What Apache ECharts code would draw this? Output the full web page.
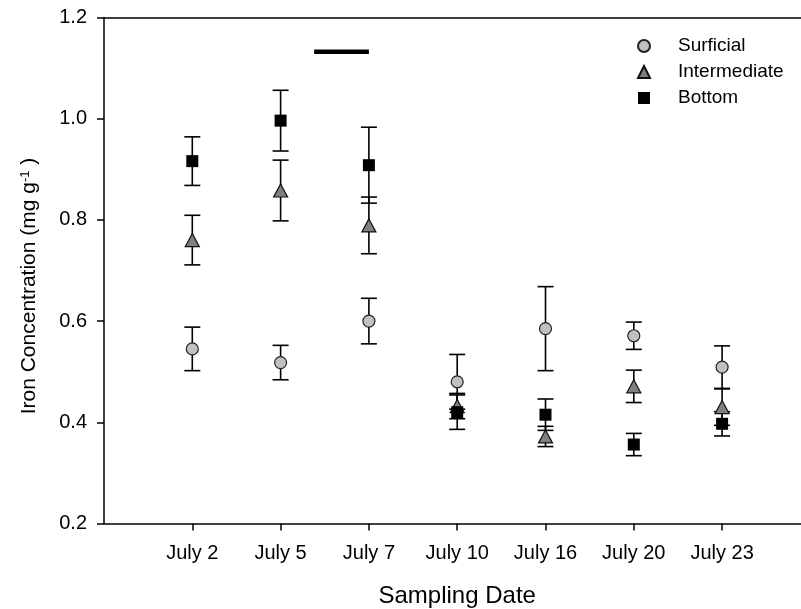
<!DOCTYPE html>
<html>
<head>
<meta charset="utf-8">
<script src="https://cdn.jsdelivr.net/npm/echarts@6/dist/echarts.min.js"></script>
<style>html,body{margin:0;padding:0;background:#fff}#c{width:801px;height:609px}</style>
</head>
<body>
<div id="c"></div>
<script>
const categories = ['July 2', 'July 5', 'July 7', 'July 10', 'July 16', 'July 20', 'July 23'];
const xPositions = [1, 2, 3, 4, 5, 6, 7];
const surficialMean = [0.545, 0.518, 0.600, 0.480, 0.585, 0.571, 0.509];
const surficialErr  = [0.043, 0.034, 0.045, 0.054, 0.083, 0.027, 0.042];
const intermediateMean = [0.760, 0.858, 0.789, 0.432, 0.372, 0.471, 0.430];
const intermediateErr  = [0.049, 0.060, 0.056, 0.025, 0.020, 0.032, 0.036];
const bottomMean = [0.916, 0.996, 0.908, 0.420, 0.415, 0.356, 0.397];
const bottomErr  = [0.048, 0.060, 0.075, 0.034, 0.031, 0.022, 0.024];
const yTicks = [0.2, 0.4, 0.6, 0.8, 1.0, 1.2];
const periodX = [2.38, 3.0];
const periodY = 1.132;

const FONT = 'Liberation Sans, Arial, sans-serif';
const chart = echarts.init(document.getElementById('c'), null, {renderer: 'canvas'});

function pts(mean) { return xPositions.map((x, i) => [x, mean[i]]); }
function errPts(mean, err) { return xPositions.map((x, i) => [x, mean[i], err[i]]); }

function errRender(params, api) {
  const x = api.value(0), y = api.value(1), e = api.value(2);
  const t = api.coord([x, y + e]);
  const b = api.coord([x, y - e]);
  const hw = 8;
  const st = {stroke: '#000', lineWidth: 1.6};
  return {type: 'group', children: [
    {type: 'line', shape: {x1: t[0], y1: t[1], x2: b[0], y2: b[1]}, style: st},
    {type: 'line', shape: {x1: t[0] - hw, y1: t[1], x2: t[0] + hw, y2: t[1]}, style: st},
    {type: 'line', shape: {x1: b[0] - hw, y1: b[1], x2: b[0] + hw, y2: b[1]}, style: st}
  ]};
}
function errSeries(mean, err) {
  return {type: 'custom', renderItem: errRender, data: errPts(mean, err), z: 1, silent: true,
    encode: {x: 0, y: 1}};
}

chart.setOption({
  animation: false,
  backgroundColor: '#fff',
  grid: {left: 104, top: 17.4, height: 506.1, width: 706.4, outerBoundsMode: 'none', containLabel: false, show: false},
  legend: {
    orient: 'vertical', left: 632, top: 31, itemWidth: 12, itemHeight: 12, itemGap: 6,
    textStyle: {fontFamily: FONT, fontSize: 19, color: '#000', lineHeight: 20, padding: [0, 0, 0, 23]},
    data: ['Surficial', 'Intermediate', 'Bottom']
  },
  xAxis: [{
    type: 'value', min: 0, max: 8,
    name: 'Sampling Date', nameLocation: 'middle', nameGap: 61,
    nameTextStyle: {fontFamily: FONT, fontSize: 24, color: '#000'},
    axisLine: {show: true, onZero: false, lineStyle: {color: '#000', width: 1.5}},
    axisTick: {show: true, customValues: xPositions, length: 7, lineStyle: {color: '#000', width: 1.5}},
    axisLabel: {customValues: xPositions, margin: 20, fontFamily: FONT, fontSize: 20, color: '#000',
      formatter: v => categories[Math.round(v) - 1] || ''},
    splitLine: {show: false}
  }, {
    type: 'value', min: 0, max: 8, position: 'top',
    axisLine: {show: true, onZero: false, lineStyle: {color: '#000', width: 1.5}},
    axisTick: {show: false}, axisLabel: {show: false}, splitLine: {show: false}
  }],
  yAxis: {
    type: 'value', min: 0.2, max: 1.2, interval: 0.2,
    axisLine: {show: true, onZero: false, lineStyle: {color: '#000', width: 1.5}},
    axisTick: {show: true, length: 7, lineStyle: {color: '#000', width: 1.5}},
    axisLabel: {margin: 17, fontFamily: FONT, fontSize: 20, color: '#000', formatter: v => v.toFixed(1)},
    splitLine: {show: false}
  },
  graphic: [{
    type: 'text', x: 29, y: 286, rotation: Math.PI / 2,
    style: {
      text: 'Iron Concentration (mg g{sup|-1} )',
      fontFamily: FONT, fontSize: 21, fill: '#000', align: 'center', verticalAlign: 'middle',
      rich: {sup: {fontFamily: FONT, fontSize: 13, verticalAlign: 'top', fill: '#000'}}
    }
  }],
  series: [
    errSeries(surficialMean, surficialErr),
    errSeries(intermediateMean, intermediateErr),
    errSeries(bottomMean, bottomErr),
    {name: 'Surficial', type: 'scatter', data: pts(surficialMean), symbol: 'circle', symbolSize: 12, z: 3,
      itemStyle: {color: '#c0c0c0', borderColor: '#222', borderWidth: 1.2, opacity: 1}},
    {name: 'Intermediate', type: 'scatter', data: pts(intermediateMean), symbol: 'triangle', symbolSize: [14, 13], z: 4,
      itemStyle: {color: '#808080', borderColor: '#111', borderWidth: 1.2, opacity: 1}},
    {name: 'Bottom', type: 'scatter', data: pts(bottomMean), symbol: 'rect', symbolSize: 12, z: 5,
      itemStyle: {color: '#000', borderColor: '#000', borderWidth: 0, opacity: 1}},
    {type: 'line', data: periodX.map(x => [x, periodY]), symbol: 'none', silent: true, z: 2,
      lineStyle: {color: '#000', width: 4.5}}
  ]
});
</script>
</body>
</html>
